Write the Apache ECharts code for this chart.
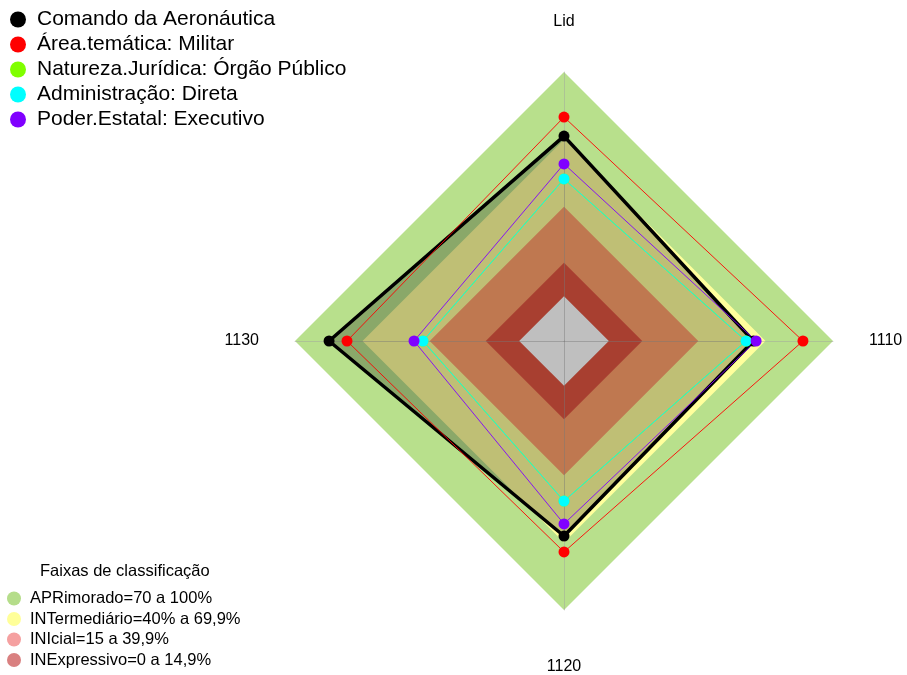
<!DOCTYPE html>
<html><head><meta charset="utf-8">
<script src="https://cdn.jsdelivr.net/npm/echarts@6/dist/echarts.min.js"></script>
<style>html,body{margin:0;padding:0;background:#fff}#c{width:907px;height:675px}</style>
</head><body><div id="c"></div><script>
// Axes in ECharts order (counter-clockwise from top): Lid, 1130, 1120, 1110
var axes = ['Lid', '1130', '1120', '1110'];
var seriesNames = ['Comando da Aeronáutica', 'Área.temática: Militar', 'Natureza.Jurídica: Órgão Público', 'Administração: Direta', 'Poder.Estatal: Executivo'];
var comando  = [71.4, 84.8, 67.0, 64.5];
var militar  = [79.9, 76.8, 74.1, 86.6];
var natureza = [52.3, 42.9, 51.4, 61.2];
var direta   = [52.3, 42.9, 51.4, 61.2];
var executivo = [59.0, 46.9, 61.6, 65.7];
var bandNames = ['APRimorado=70 a 100%', 'INTermediário=40% a 69,9%', 'INIcial=15 a 39,9%', 'INExpressivo=0 a 14,9%'];
var bandLimits = [100, 69.9, 39.9, 14.9, 0];

var seriesValues = [comando, militar, natureza, direta, executivo];
var seriesColors = ['#000000', '#ff0000', '#80ff00', '#00ffff', '#8000ff'];
var bandLegendColors = ['#b5dd8a', '#ffff99', '#f5a0a0', '#d98080', '#ffffff'];
var bandFillColors = ['#b8e08c', '#ffff9c', '#ffa06b', '#e05540', '#ffffff'];
var FONT = 'Liberation Sans, Arial, sans-serif';

var bandData = bandLimits.map(function (lim, i) {
  return {
    name: i < bandNames.length ? bandNames[i] : 'centro',
    value: axes.map(function () { return lim; }),
    symbol: 'none',
    itemStyle: { color: bandLegendColors[i] },
    lineStyle: { width: 0, opacity: 0 },
    areaStyle: { color: bandFillColors[i], opacity: 1 }
  };
});

var series = [{
  type: 'radar', name: 'faixas', z: 1, silent: true,
  data: bandData
}];
seriesValues.forEach(function (vals, i) {
  var s = {
    type: 'radar', name: seriesNames[i], z: 3,
    symbol: 'circle', symbolSize: 11,
    itemStyle: { color: seriesColors[i] },
    lineStyle: { color: seriesColors[i], width: i === 0 ? 3.5 : 0.9 },
    data: [{ name: seriesNames[i], value: vals }]
  };
  if (i === 0) s.areaStyle = { color: 'rgba(0,0,0,0.25)', opacity: 1 };
  series.push(s);
});

var chart = echarts.init(document.getElementById('c'), null, { renderer: 'canvas' });
chart.setOption({
  animation: false,
  backgroundColor: '#ffffff',
  textStyle: { fontFamily: FONT },
  title: {
    text: 'Faixas de classificação', left: 40, top: 563, padding: 0,
    textStyle: { fontSize: 16.5, fontWeight: 'normal', color: '#000', fontFamily: FONT }
  },
  legend: [{
    data: seriesNames, orient: 'vertical', left: 10, top: 9, padding: 0,
    icon: 'circle', itemWidth: 16, itemHeight: 16, itemGap: 4,
    selectedMode: false,
    textStyle: { fontSize: 21, color: '#000', padding: [0, 0, 0, 6], fontFamily: FONT }
  }, {
    data: bandNames, orient: 'vertical', left: 7, top: 590, padding: 0,
    icon: 'circle', itemWidth: 14, itemHeight: 14, itemGap: 3.5,
    selectedMode: false,
    textStyle: { fontSize: 16.5, color: '#000', padding: [0, 0, 0, 4], fontFamily: FONT }
  }],
  radar: {
    z: 2,
    center: [564, 341],
    radius: 269,
    shape: 'polygon',
    startAngle: 90,
    splitNumber: 6,
    indicator: axes.map(function (a) { return { name: a, min: -20, max: 100 }; }),
    axisName: { color: '#000', fontSize: 16, padding: [13, 0, 6, 0], fontFamily: FONT },
    nameGap: 36,
    axisLine: { show: true, lineStyle: { color: 'rgba(160,160,160,0.45)', width: 1 } },
    splitLine: { show: false },
    splitArea: { show: false },
    axisTick: { show: false },
    axisLabel: { show: false }
  },
  series: series
});
</script></body></html>
